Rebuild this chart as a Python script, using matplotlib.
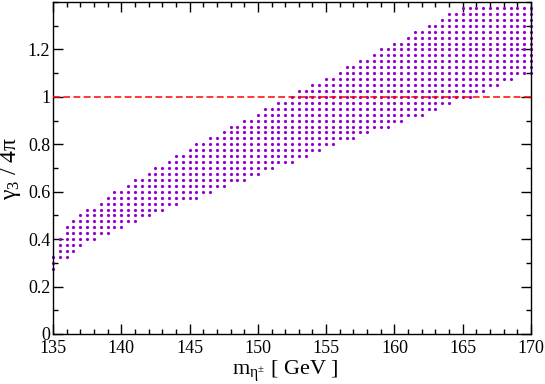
import numpy as np
import matplotlib
matplotlib.use('Agg')
import matplotlib.pyplot as plt
from matplotlib.ticker import MultipleLocator

plt.rcParams['font.family'] = 'Liberation Serif'
plt.rcParams['mathtext.fontset'] = 'custom'
plt.rcParams['mathtext.rm'] = 'Liberation Serif'
plt.rcParams['mathtext.it'] = 'Liberation Serif:italic'
plt.rcParams['mathtext.default'] = 'rm'

# scan columns (m_eta+- in GeV, step 0.5) and the allowed gamma3/4pi range per column
mass = [135.0, 135.5, 136.0, 136.5, 137.0, 137.5, 138.0, 138.5, 139.0, 139.5,
        140.0, 140.5, 141.0, 141.5, 142.0, 142.5, 143.0, 143.5, 144.0, 144.5,
        145.0, 145.5, 146.0, 146.5, 147.0, 147.5, 148.0, 148.5, 149.0, 149.5,
        150.0, 150.5, 151.0, 151.5, 152.0, 152.5, 153.0, 153.5, 154.0, 154.5,
        155.0, 155.5, 156.0, 156.5, 157.0, 157.5, 158.0, 158.5, 159.0, 159.5,
        160.0, 160.5, 161.0, 161.5, 162.0, 162.5, 163.0, 163.5, 164.0, 164.5,
        165.0, 165.5, 166.0, 166.5, 167.0, 167.5, 168.0, 168.5, 169.0, 169.5,
        170.0]
g_low = [0.275, 0.325, 0.325, 0.35, 0.375, 0.4, 0.4, 0.425, 0.425, 0.45,
         0.45, 0.475, 0.475, 0.5, 0.5, 0.525, 0.525, 0.55, 0.55, 0.575,
         0.575, 0.575, 0.6, 0.6, 0.625, 0.625, 0.65, 0.65, 0.65, 0.675,
         0.675, 0.7, 0.7, 0.725, 0.725, 0.725, 0.75, 0.75, 0.775, 0.775,
         0.8, 0.8, 0.825, 0.825, 0.825, 0.85, 0.85, 0.875, 0.875, 0.875,
         0.9, 0.9, 0.925, 0.925, 0.925, 0.95, 0.95, 0.975, 0.975, 1.0,
         1.0, 1.0, 1.025, 1.025, 1.05, 1.05, 1.075, 1.075, 1.1, 1.1,
         1.1]
g_high = [0.325, 0.4, 0.45, 0.475, 0.5, 0.525, 0.525, 0.55, 0.575, 0.6,
          0.6, 0.625, 0.65, 0.65, 0.675, 0.7, 0.7, 0.725, 0.75, 0.75,
          0.775, 0.8, 0.8, 0.825, 0.825, 0.85, 0.875, 0.875, 0.9, 0.9,
          0.925, 0.95, 0.95, 0.975, 0.975, 1.0, 1.025, 1.025, 1.05, 1.05,
          1.075, 1.075, 1.1, 1.125, 1.125, 1.15, 1.15, 1.175, 1.2, 1.2,
          1.225, 1.225, 1.25, 1.275, 1.275, 1.3, 1.3, 1.325, 1.35, 1.35,
          1.375, 1.375, 1.375, 1.375, 1.375, 1.375, 1.375, 1.375, 1.375, 1.375,
          1.375]
g_step = 0.025
bound = 1.0

# expand each column into its scan points
xs, ys = [], []
for m, lo, hi in zip(mass, g_low, g_high):
    n = int(round((hi - lo) / g_step)) + 1
    for k in range(n):
        xs.append(m)
        ys.append(lo + k * g_step)

fig = plt.figure(figsize=(5.45, 3.84), dpi=100)
ax = fig.add_axes([53/545, 50/384, 478/545, 332/384])

ax.plot(xs, ys, 'o', color='#9400d3', ms=2.3, mew=0, ls='none', clip_on=False, zorder=2)
ax.plot([135, 170], [bound, bound], color='red', lw=1.1, dashes=(4.5, 2.2), zorder=3)

ax.set_xlim(135, 170)
ax.set_ylim(0, 1.4)
ax.xaxis.set_major_locator(MultipleLocator(5))
ax.xaxis.set_minor_locator(MultipleLocator(1))
ax.yaxis.set_major_locator(MultipleLocator(0.2))
ax.yaxis.set_minor_locator(MultipleLocator(0.1))
ax.set_yticks([0, 0.2, 0.4, 0.6, 0.8, 1.0, 1.2])
ax.set_yticklabels(['0', '0.2', '0.4', '0.6', '0.8', '1', '1.2'])
ax.tick_params(which='both', direction='in', top=True, right=True, labelsize=13)
ax.tick_params(which='major', length=7, width=1, pad=2)
ax.tick_params(which='minor', length=3.5, width=1)
ax.tick_params(axis='x', which='major', pad=4)
for s in ax.spines.values():
    s.set_linewidth(1.0)

ax.set_xlabel(r'$\mathrm{m}_{\eta^{\pm}}$ [ GeV ]', fontsize=16)
ax.set_ylabel(r'$\gamma_3$ / 4$\pi$', fontsize=17)
ax.xaxis.set_label_coords(0.485, -0.075, transform=ax.transAxes)
ax.yaxis.set_label_coords(-30/478, 0.5, transform=ax.transAxes)
ax.xaxis.label.set_va('top')

fig.savefig('out.png', dpi=100)
